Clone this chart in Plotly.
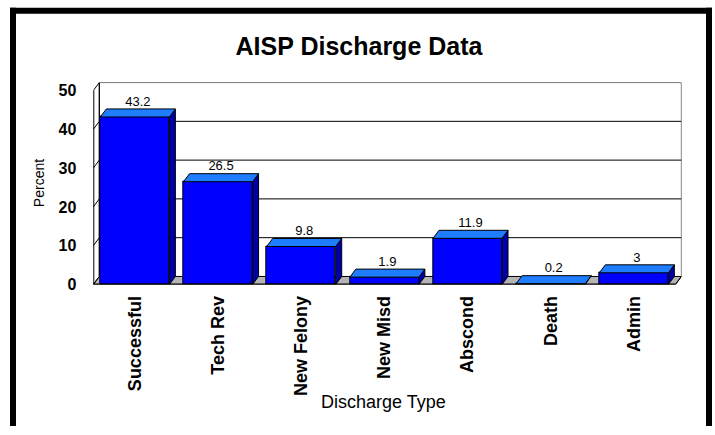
import plotly.graph_objects as go

# ---- data -------------------------------------------------------------
categories = ["Successful", "Tech Rev", "New Felony", "New Misd",
              "Abscond", "Death", "Admin"]
percent = [43.2, 26.5, 9.8, 1.9, 11.9, 0.2, 3]
y_ticks = [0, 10, 20, 30, 40, 50]
value_labels = ["43.2", "26.5", "9.8", "1.9", "11.9", "0.2", "3"]

# ---- geometry (pixels) -------------------------------------------------
W, H = 715, 435
X0_PX = 93.3          # left edge of the front plane
PX_PER_CAT = 83.16    # width of one category slot
Y0_PX = 290.5         # baseline of the front plane
PX_PER_PCT = 3.96     # pixels per percent point
DEPTH_X_PX, DEPTH_Y_PX = 6.0, 8.2   # oblique depth offset of the 3-D look
BAR_W = 0.83

FONT = "Arial, 'Liberation Sans', sans-serif"
FRONT = "#0000FF"
TOP = "#1E7EFF"
SIDE = "#0000A8"
FLOOR = "#B4B4B4"

n = len(categories)
DX = DEPTH_X_PX / PX_PER_CAT
DY = DEPTH_Y_PX / PX_PER_PCT
y_max = max(y_ticks)
x_range = [-0.5, n - 0.5 + DX]
y_range = [0, y_max + DY]
x_dom = [X0_PX / W, (X0_PX + (x_range[1] - x_range[0]) * PX_PER_CAT) / W]
y_dom = [1 - Y0_PX / H, 1 - (Y0_PX - y_range[1] * PX_PER_PCT) / H]


def py(px):
    """Paper y-fraction for a pixel row measured from the top."""
    return 1 - px / H


xs = list(range(n))
h = BAR_W / 2

# top and side faces of each column, as closed polygons
top_x, top_y, side_x, side_y = [], [], [], []
for i, v in zip(xs, percent):
    top_x += [i - h, i - h + DX, i + h + DX, i + h, i - h, None]
    top_y += [v, v + DY, v + DY, v, v, None]
    side_x += [i + h, i + h + DX, i + h + DX, i + h, i + h, None]
    side_y += [0, DY, v + DY, v, 0, None]

fig = go.Figure()
fig.add_trace(go.Bar(
    x=xs, y=percent, width=BAR_W,
    marker=dict(color=FRONT, line=dict(color="black", width=1)),
    hoverinfo="skip", showlegend=False))
fig.add_trace(go.Scatter(
    x=side_x, y=side_y, mode="lines", fill="toself", fillcolor=SIDE,
    line=dict(color="black", width=1), hoverinfo="skip", showlegend=False))
fig.add_trace(go.Scatter(
    x=top_x, y=top_y, mode="lines", fill="toself", fillcolor=TOP,
    line=dict(color="black", width=1), hoverinfo="skip", showlegend=False))
fig.add_trace(go.Scatter(
    x=[i + DX / 2 for i in xs], y=[v + DY for v in percent],
    mode="text", text=value_labels, textposition="top center",
    textfont=dict(family=FONT, size=13, color="black"),
    cliponaxis=False, hoverinfo="skip", showlegend=False))

shapes = []
# floor slab
xl, xr = x_range[0], n - 0.5
shapes.append(dict(
    type="path", xref="x", yref="y", layer="below",
    path=f"M {xl},0 L {xr},0 L {xr + DX},{DY} L {xl + DX},{DY} Z",
    fillcolor=FLOOR, line=dict(color="black", width=1)))
# back wall
shapes.append(dict(
    type="rect", xref="x", yref="y", layer="below",
    x0=xl + DX, x1=xr + DX, y0=DY, y1=y_max + DY,
    fillcolor="white", line=dict(color="black", width=1)))
# gridlines on the back wall and the matching slants on the side wall
for t in y_ticks[1:-1]:
    shapes.append(dict(type="line", xref="x", yref="y", layer="below",
                       x0=xl + DX, x1=xr + DX, y0=t + DY, y1=t + DY,
                       line=dict(color="black", width=1)))
for t in y_ticks:
    shapes.append(dict(type="line", xref="x", yref="y", layer="below",
                       x0=xl, x1=xl + DX, y0=t, y1=t + DY,
                       line=dict(color="black", width=1)))
# side wall back edge
shapes.append(dict(type="line", xref="x", yref="y", layer="below",
                   x0=xl + DX, x1=xl + DX, y0=DY, y1=y_max + DY,
                   line=dict(color="black", width=1)))
# front value axis and front baseline
shapes.append(dict(type="line", xref="x", yref="y",
                   x0=xl, x1=xl, y0=0, y1=y_max,
                   line=dict(color="black", width=2)))
shapes.append(dict(type="line", xref="x", yref="y",
                   x0=xl, x1=xr, y0=0, y1=0,
                   line=dict(color="black", width=2)))
shapes.append(dict(type="line", xref="x", yref="y",
                   x0=xr, x1=xr + DX, y0=0, y1=DY,
                   line=dict(color="black", width=1)))
# chart frame: left, top and right edges (the bottom runs off the page)
fx0, fx1, fy1 = 13 / W, 709 / W, py(11)
frame = dict(color="black", width=6)
shapes += [
    dict(type="line", xref="paper", yref="paper",
         x0=fx0, x1=fx0, y0=0, y1=py(8), line=frame),
    dict(type="line", xref="paper", yref="paper",
         x0=fx0 - 3 / W, x1=fx1 + 3 / W, y0=fy1, y1=fy1, line=frame),
    dict(type="line", xref="paper", yref="paper",
         x0=fx1, x1=fx1, y0=0, y1=py(8), line=frame),
]

annotations = [
    dict(text="Percent", xref="paper", yref="paper",
         x=39 / W, y=py(187), xanchor="center", yanchor="middle",
         textangle=-90, showarrow=False,
         font=dict(family=FONT, size=14, color="black")),
    dict(text="Discharge Type", xref="paper", yref="paper",
         x=383 / W, y=py(411), xanchor="center", yanchor="middle",
         showarrow=False,
         font=dict(family=FONT, size=18, color="black")),
]

fig.update_layout(
    width=W, height=H, margin=dict(l=0, r=0, t=0, b=0),
    paper_bgcolor="white", plot_bgcolor="rgba(0,0,0,0)",
    title=dict(text="AISP Discharge Data", x=359 / W, xanchor="center",
               y=py(46), yanchor="middle",
               font=dict(family=FONT, size=25, color="black", weight="bold")),
    xaxis=dict(domain=x_dom, range=x_range, tickvals=xs, ticktext=categories,
               tickangle=-90, ticks="", showgrid=False, zeroline=False,
               showline=False, ticklabelstandoff=7,
               tickfont=dict(family=FONT, size=18, color="black",
                             weight="bold")),
    yaxis=dict(domain=y_dom, range=y_range, tickvals=y_ticks, ticks="",
               showgrid=False, zeroline=False, showline=False,
               ticklabelstandoff=16,
               tickfont=dict(family=FONT, size=16, color="black",
                             weight="bold")),
    shapes=shapes, annotations=annotations, bargap=0,
)

fig.write_html("out.html")
